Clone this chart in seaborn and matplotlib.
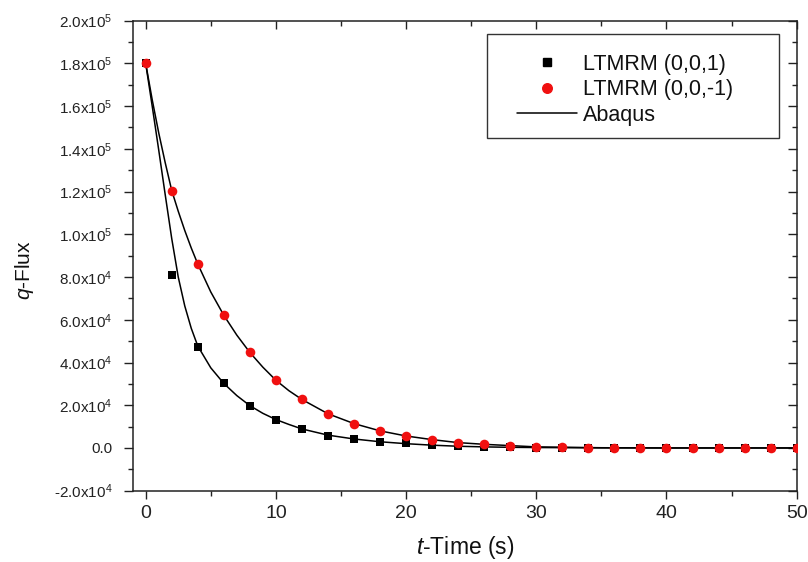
import matplotlib
matplotlib.use("Agg")
import matplotlib.pyplot as plt
import matplotlib.patches as mpatches
from matplotlib.ticker import MultipleLocator
from matplotlib.lines import Line2D
import seaborn as sns
import pandas as pd

# ---------------- data ----------------
t_points = [0, 2, 4, 6, 8, 10, 12, 14, 16, 18, 20, 22, 24, 26, 28, 30,
            32, 34, 36, 38, 40, 42, 44, 46, 48, 50]
q_ltmrm_001 = [180000, 80800, 47300, 30200, 19700, 13300, 8900, 5800, 4200, 2800,
               2100, 1300, 800, 500, 300, 200, 100, 50, 0, 0, 0, 0, 0, 0, 0, 0]
q_ltmrm_00m1 = [180000, 120500, 86100, 62100, 44700, 31700, 22700, 16000, 11400, 8000,
                5600, 3900, 2500, 1700, 1100, 500, 300, 200, 100, 50, 0, 0, 0, 0, 0, 0]

t_abaqus = [0, 0.5, 1, 1.5, 2, 2.5, 3, 3.5, 4, 5, 6, 7, 8, 9, 10, 11, 12, 14, 16, 18,
            20, 22, 24, 26, 28, 30, 35, 40, 45, 50]
q_abaqus_001 = [180000, 160000, 139500, 118500, 98000, 80000, 66500, 56000, 47700, 37500,
                30200, 24500, 19800, 16200, 13300, 11000, 8900, 6000, 4200, 2900,
                2000, 1300, 800, 500, 300, 200, 50, 0, 0, 0]
q_abaqus_00m1 = [180000, 163000, 147500, 133500, 120500, 110800, 101800, 93600, 86100, 73000,
                 62100, 52800, 44700, 37800, 31700, 26800, 22700, 16000, 11400, 8000,
                 5600, 3900, 2500, 1700, 1100, 500, 100, 0, 0, 0]

y_ticks = [-20000, 0, 20000, 40000, 60000, 80000, 100000, 120000, 140000, 160000, 180000, 200000]
y_tick_labels = ["-2.0x10$^{4}$", "0.0", "2.0x10$^{4}$", "4.0x10$^{4}$", "6.0x10$^{4}$",
                 "8.0x10$^{4}$", "1.0x10$^{5}$", "1.2x10$^{5}$", "1.4x10$^{5}$",
                 "1.6x10$^{5}$", "1.8x10$^{5}$", "2.0x10$^{5}$"]
x_ticks = [0, 10, 20, 30, 40, 50]
x_tick_labels = ["0", "10", "20", "30", "40", "50"]

labels = ["LTMRM (0,0,1)", "LTMRM (0,0,-1)", "Abaqus"]

# ---------------- style ----------------
sns.set_style("ticks")
plt.rcParams["font.family"] = ["Liberation Sans", "DejaVu Sans"]
plt.rcParams["mathtext.fontset"] = "custom"
plt.rcParams["mathtext.rm"] = "Liberation Sans"
plt.rcParams["mathtext.it"] = "Liberation Sans:italic"
plt.rcParams["mathtext.default"] = "regular"

fig = plt.figure(figsize=(8.08, 5.62), dpi=100)
ax = fig.add_axes([0.1642, 0.1269, 0.8218, 0.8363])

df_a1 = pd.DataFrame({"t": t_abaqus, "q": q_abaqus_001})
df_a2 = pd.DataFrame({"t": t_abaqus, "q": q_abaqus_00m1})
sns.lineplot(data=df_a1, x="t", y="q", color="black", lw=1.1, ax=ax, zorder=2)
sns.lineplot(data=df_a2, x="t", y="q", color="black", lw=1.1, ax=ax, zorder=2)

df_p1 = pd.DataFrame({"t": t_points, "q": q_ltmrm_001})
df_p2 = pd.DataFrame({"t": t_points, "q": q_ltmrm_00m1})
sns.scatterplot(data=df_p1, x="t", y="q", marker="s", color="black", s=40,
                linewidth=0, ax=ax, zorder=3)
sns.scatterplot(data=df_p2, x="t", y="q", marker="o", color="#f01010", s=48,
                linewidth=0, ax=ax, zorder=4)

ax.set_xlim(-1, 50)
ax.set_ylim(-20000, 200000)
ax.set_xticks(x_ticks)
ax.set_xticklabels(x_tick_labels, fontsize=14, color="#222222")
ax.set_yticks(y_ticks)
ax.set_yticklabels(y_tick_labels, fontsize=11, color="#222222")
ax.xaxis.set_minor_locator(MultipleLocator(5))
ax.yaxis.set_minor_locator(MultipleLocator(10000))

for side in ["left", "right", "top", "bottom"]:
    ax.spines[side].set_visible(True)
    ax.spines[side].set_linewidth(1.1)
    ax.spines[side].set_color("#222222")

ax.tick_params(axis="both", which="both", top=True, right=True, width=1.0, color="#222222")
ax.tick_params(axis="x", which="major", length=6, direction="out", pad=4)
ax.tick_params(axis="x", which="minor", length=3.5, direction="out")
ax.tick_params(axis="y", which="major", length=6.5, direction="out", pad=8)
ax.tick_params(axis="y", which="minor", length=3.5, direction="out")
# top / right ticks point inward
for tk in ax.xaxis.get_major_ticks() + ax.xaxis.get_minor_ticks():
    tk.tick2line.set_marker(3)  # TICKDOWN
for tk in ax.yaxis.get_major_ticks() + ax.yaxis.get_minor_ticks():
    tk.tick2line.set_marker(0)  # TICKLEFT

ax.set_xlabel("$\\mathit{t}$-Time (s)", fontsize=16.5, labelpad=9, color="#111111")
ax.set_ylabel("$\\mathit{q}$-Flux", fontsize=15, color="#111111")
ax.yaxis.set_label_coords(-0.145, 0.47)

handles = [
    Line2D([], [], marker="s", color="black", linestyle="none", markersize=6.3),
    Line2D([], [], marker="o", color="#f01010", linestyle="none", markersize=6.9),
    Line2D([], [], color="black", lw=1.1),
]
leg = ax.legend(handles, labels, loc="upper left",
                bbox_to_anchor=(516.7 / 808, 1 - 54 / 562), bbox_transform=fig.transFigure,
                frameon=False, fontsize=15.5, handlelength=2.8, handletextpad=0.3,
                labelspacing=0.2, borderpad=0, borderaxespad=0)
for txt in leg.get_texts():
    txt.set_color("#111111")
frame = mpatches.Rectangle((487 / 808, 1 - 138.3 / 562), (779 - 487) / 808, (138.3 - 34.3) / 562,
                           transform=fig.transFigure, fill=False, edgecolor="#333333",
                           linewidth=1.0, zorder=5)
fig.patches.append(frame)

fig.savefig("out.png", dpi=100)
